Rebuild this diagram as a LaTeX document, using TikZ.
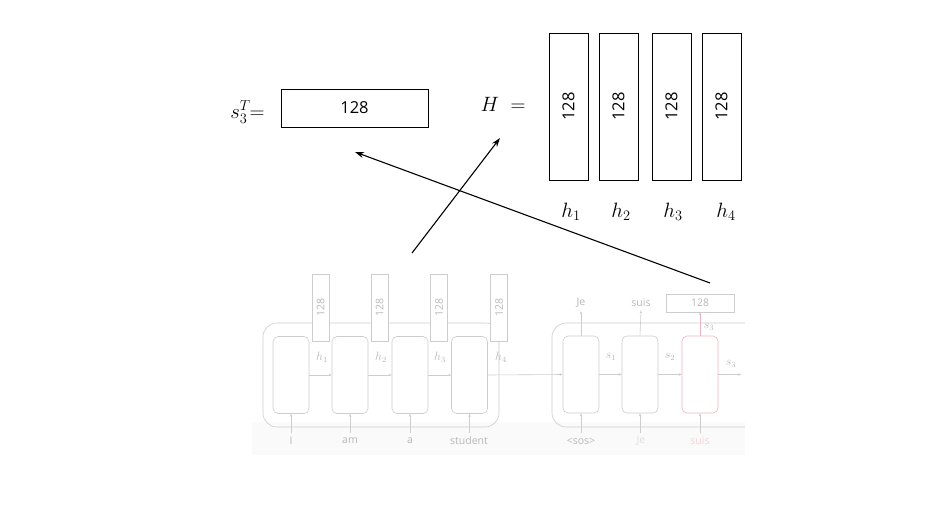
\documentclass[tikz,border=0pt]{standalone}
\usepackage{fontspec}
\setsansfont{Open Sans}
\usetikzlibrary{arrows.meta}
\definecolor{fl}{HTML}{CDCDCD}
\definecolor{ft}{HTML}{B8B8B8}
\definecolor{fr}{HTML}{F0B4BE}
\begin{document}
\begin{tikzpicture}[x=1pt,y=-1pt,
  vbox/.style={draw,line width=0.9pt,minimum width=39pt,minimum height=147pt,inner sep=0pt},
  vtxt/.style={font=\sffamily\fontsize{16.5}{16.5}\selectfont,rotate=90},
  mlab/.style={font=\fontsize{21}{21}\selectfont},
  bigarrow/.style={line width=1.1pt,-{Stealth[length=9pt,width=6pt]}},
  fline/.style={draw=fl,line width=0.6pt},
  fcell/.style={draw=fl,line width=0.6pt,rounded corners=5pt,minimum width=36pt,minimum height=77pt,inner sep=0pt},
  fvbox/.style={draw=fl,line width=0.6pt,minimum width=17pt,minimum height=67pt,inner sep=0pt},
  ftxt/.style={text=ft,font=\sffamily\fontsize{10.5}{10.5}\selectfont},
  fmath/.style={text=ft,font=\fontsize{12}{12}\selectfont},
  farrow/.style={draw=fl,line width=0.6pt,-{Stealth[length=3pt,width=2.5pt]}}]
\useasboundingbox (0,0) rectangle (930,527);
% faded screenshot background
\fill[fill=white] (252,265) rectangle (745,455);
\fill[fill=black!2] (252,422) rectangle (745,455);
% ---------- encoder ----------
\node[draw=fl,line width=0.6pt,rounded corners=14pt,minimum width=236pt,minimum height=104pt,inner sep=0pt] (enc) at (381,375) {};
\node[fcell] (c1) at (291,375) {};
\node[fcell] (c2) at (350,375) {};
\node[fcell] (c3) at (410,375) {};
\node[fcell] (c4) at (469.5,375) {};
\fill[white] (312,274) rectangle (329,341);
\fill[white] (371,274) rectangle (388,341);
\fill[white] (430,274) rectangle (448,341);
\fill[white] (490,274) rectangle (508,341);
\node[fvbox] (e1) at (320.5,307.5) {};
\node[fvbox] (e2) at (379.5,307.5) {};
\node[fvbox] (e3) at (439,307.5) {};
\node[fvbox] (e4) at (499,307.5) {};
\foreach \n in {e1,e2,e3,e4}{\node[ftxt,rotate=90] at (\n) {128};}
\node[fmath] (eh1) at (322,357) {$h_1$};
\node[fmath] (eh2) at (381,357) {$h_2$};
\node[fmath] (eh3) at (440,357) {$h_3$};
\node[fmath] (eh4) at (501,357) {$h_4$};
\draw[farrow] (c1.east) -- (c2.west);
\draw[farrow] (c2.east) -- (c3.west);
\draw[farrow] (c3.east) -- (c4.west);
\node[ftxt] (w1) at (291,441) {I};
\node[ftxt] (w2) at (350,441) {am};
\node[ftxt] (w3) at (410,441) {a};
\node[ftxt] (w4) at (469,441) {student};
\draw[farrow] (291,433) -- (c1.south);
\draw[farrow] (350,433) -- (c2.south);
\draw[farrow] (410,433) -- (c3.south);
\draw[farrow] (469.5,433) -- (c4.south);
% ---------- decoder ----------
\draw[fline,rounded corners=14pt] (745,323) -- (552,323) -- (552,427) -- (745,427);
\node[fcell] (d1) at (581,374.5) {};
\node[fcell] (d2) at (640,374.5) {};
\node[fcell,draw=fr] (d3) at (700,374.5) {};
\draw[farrow] (c4.east) -- (d1.west);
\draw[farrow] (d1.east) -- (d2.west);
\draw[farrow] (d2.east) -- (d3.west);
\draw[farrow] (d3.east) -- (741,374.5);
\node[fmath] (s1) at (611,357) {$s_1$};
\node[fmath] (s2) at (670,357) {$s_2$};
\node[fmath] (s3r) at (731,364) {$s_3$};
\node[fmath] (s3u) at (709,327) {$s_3$};
\node[ftxt] (je) at (581,303) {Je};
\node[ftxt] (suis) at (641,303) {suis};
\node[draw=fl,line width=0.6pt,minimum width=68pt,minimum height=18pt,inner sep=0pt,ftxt] (dv) at (700,303) {128};
\draw[farrow] (d1.north) -- (je.south);
\draw[farrow] (d2.north) -- (suis.south);
\draw[farrow,draw=fr] (d3.north) -- (dv.south);
\node[ftxt] (i1) at (581,441) {<sos>};
\node[ftxt,text=black!12] (i2) at (641,441) {Je};
\node[ftxt,text=fr!60] (i3) at (700,441) {suis};
\draw[farrow] (581,433) -- (d1.south);
\draw[farrow] (640,433) -- (d2.south);
\draw[farrow] (700,433) -- (d3.south);
% ---------- top ----------
\node[mlab,anchor=east] (sT) at (268,112) {$s_3^T\!\!=$};
\node[draw,line width=0.9pt,minimum width=147pt,minimum height=38pt,inner sep=0pt,font=\sffamily\fontsize{16.5}{16.5}\selectfont] (sbox) at (354.5,108) {128};
\node[mlab] (Heq) at (503,104) {$H\;=$};
\node[vbox] (H1) at (568.5,106.5) {};
\node[vbox] (H2) at (618.5,106.5) {};
\node[vbox] (H3) at (671.5,106.5) {};
\node[vbox] (H4) at (721.5,106.5) {};
\foreach \n in {H1,H2,H3,H4}{\node[vtxt] at (\n) {128};}
\node[mlab] (h1) at (571,212) {$h_1$};
\node[mlab] (h2) at (621,212) {$h_2$};
\node[mlab] (h3) at (673,212) {$h_3$};
\node[mlab] (h4) at (726,212) {$h_4$};
\coordinate (a1s) at (412,253);
\coordinate (a1e) at (500,138);
\coordinate (a2s) at (710,283);
\coordinate (a2e) at (355,152);
\draw[bigarrow] (a1s) -- (a1e);
\draw[bigarrow] (a2s) -- (a2e);
\end{tikzpicture}
\end{document}
